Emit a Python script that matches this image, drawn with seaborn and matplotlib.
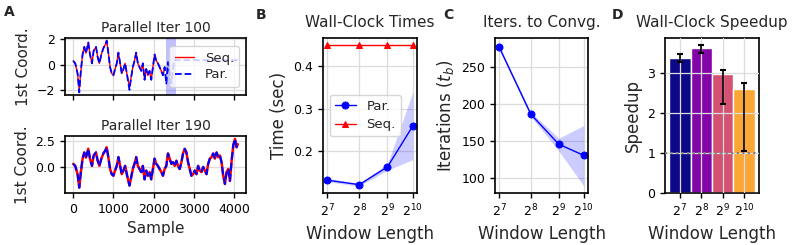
import numpy as np
import pandas as pd
import matplotlib
matplotlib.use("Agg")
import matplotlib.pyplot as plt
import seaborn as sns

# ---------------- data ----------------
# Panel A: first coordinate of the chain
sample_idx = [0, 50, 108, 150, 190, 233, 275, 317, 375, 417, 467, 508, 567, 608, 650,
              700, 750, 800, 833, 875, 917, 958, 1000, 1042, 1083, 1125, 1167, 1208,
              1250, 1292, 1342, 1400, 1442, 1483, 1525, 1567, 1608, 1650, 1692, 1733,
              1775, 1817, 1858, 1900, 1942, 1983, 2025, 2067, 2108, 2150, 2192, 2233,
              2275, 2317, 2358, 2400, 2442, 2483, 2525, 2567, 2608, 2650, 2692, 2733,
              2775, 2817, 2858, 2900, 2942, 2983, 3025, 3067, 3108, 3150, 3192, 3233,
              3275, 3317, 3358, 3400, 3442, 3483, 3525, 3567, 3608, 3650, 3692, 3733,
              3775, 3817, 3858, 3900, 3942, 3983, 4025, 4067, 4095]
coord_seq = [0.3, 0.1, -0.7, -2.0, -0.5, 0.8, 1.4, 0.9, 1.75, 0.8, 0.1, 1.1, 1.4, 0.6, 0.1,
             0.8, 1.3, 1.6, 1.9, 0.9, -0.2, -0.7, -0.85, -0.35, 0.1, 0.95, 0.1, -0.7,
             -0.35, 0.1, -0.85, -1.8, -1.0, -0.2, 0.3, 0.95, 0.1, -0.2, -0.5, 0.1,
             -1.2, -0.35, -0.85, -0.5, -1.2, -0.2, 0.8, 0.3, 0.1, -0.2, -0.5, -0.85,
             -0.2, 0.1, 1.3, 0.8, 0.3, 0.45, 0.1, 0.6, 0.1, -0.2, 0.45, 1.3,
             1.75, 1.4, 0.45, -0.2, -0.85, -0.7, -0.35, -0.7, 0.1, -0.35, -0.5, 0.0,
             -0.35, -0.7, 0.3, 0.8, 0.95, 1.3, 0.8, 1.4, 0.95, 1.1, 0.45, -0.85,
             -1.65, -0.5, -0.2, -1.35, 0.6, 2.1, 2.7, 1.9, 2.2]
par100_idx = [0, 50, 108, 150, 190, 233, 275, 317, 375, 417, 467, 508, 567, 608, 650,
              700, 750, 800, 833, 875, 917, 958, 1000, 1042, 1083, 1125, 1167, 1208,
              1250, 1292, 1342, 1400, 1442, 1483, 1525, 1567, 1608, 1650, 1692, 1733,
              1775, 1817, 1858, 1900, 1942, 1983, 2025, 2067, 2108, 2150, 2192, 2233,
              2275, 2317, 2358, 2400, 2442, 2483, 2525, 2560, 4095]
par100_val = [0.3, 0.1, -0.7, -2.2, -0.5, 0.8, 1.4, 0.9, 1.75, 0.8, 0.1, 1.1, 1.4, 0.6, 0.1,
              0.8, 1.3, 1.6, 1.9, 0.9, -0.2, -0.7, -0.85, -0.35, 0.1, 0.95, 0.1, -0.7,
              -0.35, 0.1, -0.85, -2.0, -1.0, -0.2, 0.3, 0.95, 0.1, -0.2, -0.5, 0.1,
              -1.2, -0.35, -0.85, -0.5, -1.2, -0.2, 0.8, 0.3, 0.1, -0.2, -0.5, -0.85,
              -0.2, -1.5, 0.2, -0.6, -1.5, -0.3, 0.4, 0.35, 0.35]
seq100_end = 2275
window_start = 2304
window_len = 256

# Panels B-D
window_exp = [7, 8, 9, 10]
tick_labels = ["$2^{7}$", "$2^{8}$", "$2^{9}$", "$2^{10}$"]
time_par = [0.133, 0.1225, 0.164, 0.259]
time_par_lo = [0.129, 0.1195, 0.156, 0.181]
time_par_hi = [0.137, 0.1255, 0.171, 0.338]
time_seq = [0.448, 0.448, 0.448, 0.448]

iters = [276, 186, 146, 131]
iters_lo = [274, 183, 137, 90]
iters_hi = [279, 189, 154, 171]

speedup = [3.37, 3.63, 2.98, 2.61]
speedup_lo = [3.29, 3.51, 2.24, 1.06]
speedup_hi = [3.47, 3.71, 3.08, 2.75]

# ---------------- style ----------------
sns.set_style("ticks")
plt.rcParams.update({
    "font.family": ["DejaVu Sans"],
    "axes.edgecolor": "black",
    "axes.linewidth": 1.2,
    "xtick.labelsize": 9,
    "ytick.labelsize": 9,
    "xtick.color": "black",
    "ytick.color": "black",
    "axes.labelsize": 12,
    "axes.titlesize": 11,
    "grid.color": "#dcdcdc",
    "grid.linewidth": 0.9,
})

W, H = 792, 245
fig = plt.figure(figsize=(W / 100, H / 100), dpi=100)


def add_ax(l, t, r, b):
    return fig.add_axes([l / W, 1 - b / H, (r - l) / W, (b - t) / H])


axA1 = add_ax(65, 38, 246, 95)
axA2 = add_ax(65, 136, 246, 193)
axB = add_ax(323, 38, 417, 193)
axC = add_ax(495, 38, 588, 193)
axD = add_ax(665, 38, 759, 193)

for ax in (axA1, axA2, axB, axC, axD):
    ax.grid(True)
    ax.tick_params(direction="out", length=3.5, width=1)

# ----- Panel A -----
seq_df = pd.DataFrame({"x": sample_idx, "y": coord_seq})
par_df = pd.DataFrame({"x": par100_idx, "y": par100_val})
seq_top = seq_df[seq_df["x"] <= seq100_end]

axA1.axvspan(window_start, window_start + window_len, color="#4b4bff", alpha=0.35, lw=0)
sns.lineplot(data=seq_top, x="x", y="y", ax=axA1, color="red", lw=1.0, label="Seq.")
sns.lineplot(data=par_df, x="x", y="y", ax=axA1, color="blue", lw=1.3, ls="--", label="Par.")
axA1.set_title("Parallel Iter 100", pad=4, fontsize=10)
axA1.set_ylabel("1st Coord.", fontsize=11)
axA1.set_xlabel("")
axA1.set_yticks([-2, 0, 2])
axA1.set_xticks([0, 1000, 2000, 3000, 4000])
axA1.set_xticklabels([])
axA1.legend(loc="center right", fontsize=9.5, handlelength=1.5, borderpad=0.4,
            labelspacing=0.3, framealpha=0.8)

sns.lineplot(data=seq_df, x="x", y="y", ax=axA2, color="red", lw=1.8)
sns.lineplot(data=seq_df, x="x", y="y", ax=axA2, color="blue", lw=1.5, ls="--")
axA2.set_title("Parallel Iter 190", pad=4, fontsize=10)
axA2.set_ylabel("1st Coord.", fontsize=11)
axA2.set_xlabel("Sample", fontsize=11)
axA2.set_xticks([0, 1000, 2000, 3000, 4000])
axA2.set_yticks([0.0, 2.5])
axA2.set_yticklabels(["0.0", "2.5"])
axA2.set_ylim(-2.52, 2.99)

# ----- Panel B -----
axB.set_xscale("log")
axB.fill_between(window_exp, time_par_lo, time_par_hi, color="blue", alpha=0.2, lw=0)
sns.lineplot(x=window_exp, y=time_par, ax=axB, color="blue", marker="o", ms=5,
             mec="blue", lw=1, label="Par.")
sns.lineplot(x=window_exp, y=time_seq, ax=axB, color="red", marker="^", ms=5,
             mec="red", lw=1, label="Seq.")
axB.set_xticks(window_exp)
axB.set_xticklabels(tick_labels)
axB.minorticks_off()
axB.set_yticks([0.2, 0.3, 0.4])
axB.set_title("Wall-Clock Times", pad=8)
axB.set_ylabel("Time (sec)")
axB.set_xlabel("Window Length")
axB.legend(loc="center left", fontsize=9.5, handlelength=1.6, borderpad=0.4,
           labelspacing=0.4, framealpha=0.8)

# ----- Panel C -----
axC.set_xscale("log")
axC.fill_between(window_exp, iters_lo, iters_hi, color="blue", alpha=0.2, lw=0)
sns.lineplot(x=window_exp, y=iters, ax=axC, color="blue", marker="o", ms=5,
             mec="blue", lw=1)
axC.set_xticks(window_exp)
axC.set_xticklabels(tick_labels)
axC.minorticks_off()
axC.set_yticks([100, 150, 200, 250])
axC.set_title("Iters. to Convg.", pad=8)
axC.set_ylabel("Iterations ($t_b$)")
axC.set_xlabel("Window Length")

# ----- Panel D -----
bar_colors = [plt.get_cmap("plasma")(v) for v in np.linspace(0, 0.8, 4)]
bar_df = pd.DataFrame({"w": tick_labels, "s": speedup})
sns.barplot(data=bar_df, x="w", y="s", hue="w", palette=bar_colors, width=1.0,
            ax=axD, legend=False, saturation=1, errorbar=None)
pos = np.arange(len(speedup))
axD.errorbar(pos, speedup,
             yerr=[np.array(speedup) - np.array(speedup_lo), np.array(speedup_hi) - np.array(speedup)],
             fmt="none", ecolor="black", elinewidth=1.2, capsize=2, capthick=1.5, zorder=5)
axD.axhline(1.0, color="gray", ls=":", lw=1.5, zorder=4)
axD.set_axisbelow(False)
axD.grid(True, zorder=3)
axD.set_xlim(-0.7, 3.7)
axD.set_ylim(0, 3.88)
axD.set_yticks([0, 1, 2, 3])
axD.set_title("Wall-Clock Speedup", pad=8)
axD.set_ylabel("Speedup")
axD.set_xlabel("Window Length")

# panel letters
for txt, x, y in (("A", 4, 16), ("B", 256, 19), ("C", 443, 19), ("D", 612, 19)):
    fig.text(x / W, 1 - y / H, txt, fontsize=10, fontweight="bold", ha="left", va="baseline")

fig.savefig("out.png", dpi=100)
